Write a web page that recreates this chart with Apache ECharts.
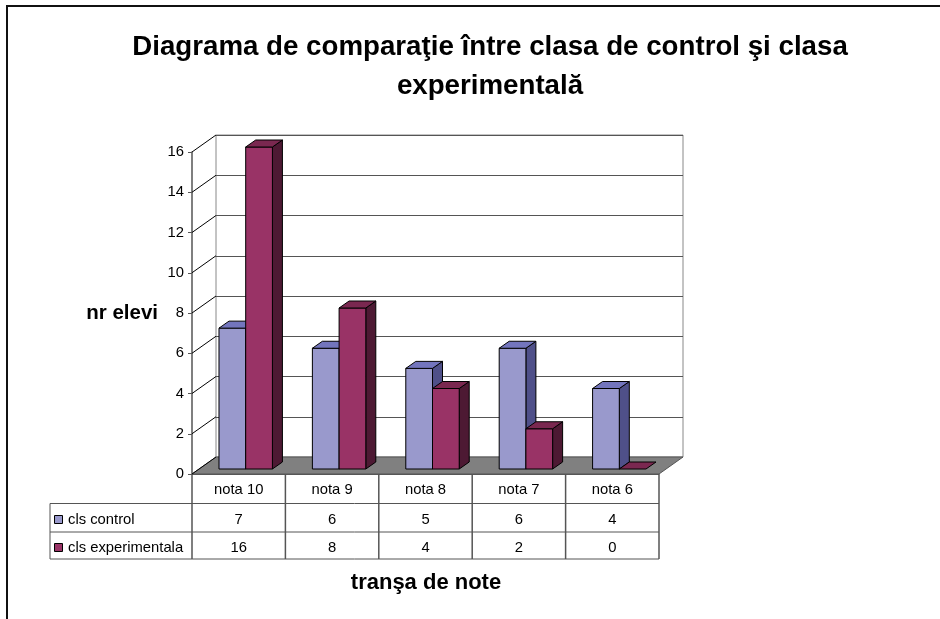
<!DOCTYPE html>
<html><head><meta charset="utf-8">
<script src="https://cdn.jsdelivr.net/npm/echarts@6/dist/echarts.min.js"></script>
<style>html,body{margin:0;padding:0;background:#fff}#c{width:940px;height:619px}</style>
</head><body><div id="c"></div>
<script>
// ---- data ----
const categories = ['nota 10', 'nota 9', 'nota 8', 'nota 7', 'nota 6'];
const seriesNames = ['cls control', 'cls experimentala'];
const controlValues = [7, 6, 5, 6, 4];
const experimentalValues = [16, 8, 4, 2, 0];
const yMin = 0, yMax = 16, yInterval = 2;
const titleLines = ['Diagrama de comparaţie între clasa de control şi clasa', 'experimentală'];
const yAxisTitle = 'nr elevi';
const xAxisTitle = 'tranşa de note';

// ---- layout / style ----
const FONT = '"Liberation Sans", Arial, sans-serif';
const G = { left: 192, top: 152, width: 467, height: 322 };
const DEPTH = { dx: 24, dy: -17 };
const BAR = { dx: 7, dy: -5, depthX: 10, depthY: -7, widthFrac: 0.286 };
const faces = [
  { front: '#9999CC', top: '#7375BD', side: '#4F5089' },
  { front: '#993366', top: '#7A2850', side: '#4D1933' }
];
const allValues = [controlValues, experimentalValues];

const chart = echarts.init(document.getElementById('c'), null, { renderer: 'canvas' });

function barRender(sIdx) {
  return function (params, api) {
    const i = api.value(0), v = api.value(1);
    const c = api.coord([i, v]);
    const b = api.coord([i, 0]);
    const band = api.size([1, 0])[0];
    const w = band * BAR.widthFrac;
    const x0 = c[0] - w + sIdx * w + BAR.dx;
    const x1 = x0 + w;
    const yt = c[1] + BAR.dy, yb = b[1] + BAR.dy;
    const f = faces[sIdx];
    const st = { stroke: '#000', lineWidth: 1 };
    const dX = BAR.depthX, dY = BAR.depthY;
    const ch = [];
    if (yb - yt > 0.5) {
      ch.push({ type: 'polygon', shape: { points: [[x1, yt], [x1 + dX, yt + dY], [x1 + dX, yb + dY], [x1, yb]] }, style: Object.assign({ fill: f.side }, st) });
      ch.push({ type: 'polygon', shape: { points: [[x0, yt], [x1, yt], [x1, yb], [x0, yb]] }, style: Object.assign({ fill: f.front }, st) });
    }
    ch.push({ type: 'polygon', shape: { points: [[x0, yt], [x1, yt], [x1 + dX, yt + dY], [x0 + dX, yt + dY]] }, style: Object.assign({ fill: f.top }, st) });
    return { type: 'group', children: ch };
  };
}

function wallRender(params, api) {
  const cs = params.coordSys;
  const x = cs.x, y = cs.y, w = cs.width, h = cs.height;
  const ch = [];
  ch.push({ type: 'polygon', shape: { points: [[x, y + h], [x + w, y + h], [x + w + DEPTH.dx, y + h + DEPTH.dy], [x + DEPTH.dx, y + h + DEPTH.dy]] },
    style: { fill: '#808080', stroke: '#555', lineWidth: 1 } });
  for (let t = yMin; t <= yMax; t += yInterval) {
    const p = api.coord([0, t]);
    ch.push({ type: 'line', shape: { x1: x, y1: p[1], x2: x + DEPTH.dx, y2: p[1] + DEPTH.dy }, style: { stroke: '#000', lineWidth: 1 } });
  }
  return { type: 'group', children: ch };
}

// ---- table graphics ----
const colW = G.width / categories.length;
const rowLines = [474, 503.5, 532, 559];
const tblLeft = 50;
const tblRight = G.left + G.width;
const graphics = [];
const lineStyle = { stroke: '#555', lineWidth: 1 };
graphics.push({ type: 'line', shape: { x1: G.left, y1: rowLines[0], x2: tblRight, y2: rowLines[0] }, style: { stroke: '#222', lineWidth: 1.5 } });
for (let r = 1; r < rowLines.length; r++) {
  graphics.push({ type: 'line', shape: { x1: tblLeft, y1: rowLines[r], x2: tblRight, y2: rowLines[r] }, style: lineStyle });
}
graphics.push({ type: 'line', shape: { x1: tblLeft, y1: rowLines[1], x2: tblLeft, y2: rowLines[3] }, style: lineStyle });
for (let i = 0; i <= categories.length; i++) {
  const xx = G.left + i * colW;
  graphics.push({ type: 'line', shape: { x1: xx, y1: rowLines[0], x2: xx, y2: rowLines[3] }, style: { stroke: '#555', lineWidth: 1.5 } });
}
const txt = (x, y, text, extra) => Object.assign({ type: 'text', x, y, style: Object.assign({ text, fill: '#000', fontFamily: FONT, fontSize: 14.8, align: 'center', verticalAlign: 'middle' }, extra || {}) });
categories.forEach((c, i) => {
  graphics.push(txt(G.left + (i + 0.5) * colW, (rowLines[0] + rowLines[1]) / 2 + 1, c));
});
seriesNames.forEach((n, s) => {
  const yc = (rowLines[s + 1] + rowLines[s + 2]) / 2 + 2;
  graphics.push({ type: 'rect', shape: { x: 54.5, y: Math.round(yc - 5) + 0.5, width: 8, height: 8 }, style: { fill: faces[s].front, stroke: '#000', lineWidth: 1 } });
  graphics.push(txt(68, yc, n, { align: 'left' }));
  allValues[s].forEach((v, i) => {
    graphics.push(txt(G.left + (i + 0.5) * colW, yc, String(v)));
  });
});
// titles
graphics.push(txt(490, 47, titleLines[0], { fontSize: 27.7, fontWeight: 'bold' }));
graphics.push(txt(490, 86, titleLines[1], { fontSize: 27.7, fontWeight: 'bold' }));
graphics.push(txt(158, 313, yAxisTitle, { fontSize: 20.5, fontWeight: 'bold', align: 'right' }));
graphics.push(txt(426, 583, xAxisTitle, { fontSize: 22, fontWeight: 'bold' }));
// outer border
graphics.push({ type: 'rect', shape: { x: 7, y: 6, width: 1000, height: 700 }, style: { fill: null, stroke: '#111', lineWidth: 2 }, z: 100 });

const option = {
  animation: false,
  backgroundColor: '#fff',
  grid: [
    { left: G.left, top: G.top, width: G.width, height: G.height, show: false },
    { left: G.left + DEPTH.dx, top: G.top + DEPTH.dy, width: G.width, height: G.height, show: true, borderColor: '#888', borderWidth: 1, backgroundColor: '#fff' }
  ],
  xAxis: [
    { type: 'category', gridIndex: 0, data: categories, axisLine: { show: false }, axisTick: { show: false }, axisLabel: { show: false } },
    { type: 'category', gridIndex: 1, data: categories, show: false }
  ],
  yAxis: [
    { type: 'value', gridIndex: 0, min: yMin, max: yMax, interval: yInterval,
      axisLine: { show: true, lineStyle: { color: '#555', width: 1.5 } },
      axisTick: { show: true, length: 4, lineStyle: { color: '#555' } },
      axisLabel: { color: '#000', fontSize: 14.8, fontFamily: FONT, margin: 8 },
      splitLine: { show: false } },
    { type: 'value', gridIndex: 1, min: yMin, max: yMax, interval: yInterval,
      axisLine: { show: false }, axisTick: { show: false }, axisLabel: { show: false },
      splitLine: { show: true, lineStyle: { color: '#555', width: 1 } } }
  ],
  series: [
    { type: 'custom', name: 'walls', xAxisIndex: 0, yAxisIndex: 0, data: [[0, 0]], renderItem: wallRender, z: 1, silent: true },
    { type: 'custom', name: seriesNames[0], xAxisIndex: 0, yAxisIndex: 0, data: controlValues.map((v, i) => [i, v]), renderItem: barRender(0), z: 3 },
    { type: 'custom', name: seriesNames[1], xAxisIndex: 0, yAxisIndex: 0, data: experimentalValues.map((v, i) => [i, v]), renderItem: barRender(1), z: 4 }
  ],
  graphic: { elements: graphics }
};
chart.setOption(option);
</script>
</body></html>
